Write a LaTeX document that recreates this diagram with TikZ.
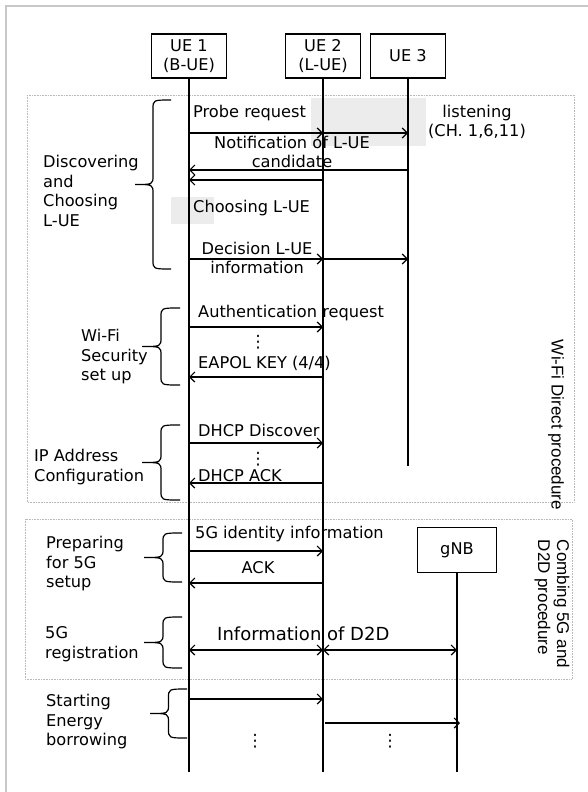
\documentclass[tikz,border=0pt]{standalone}
\usepackage{fontspec}
\setmainfont{DejaVu Sans}
\newfontfamily\sidefont{Liberation Sans}
\usetikzlibrary{arrows.meta, positioning, calc}
\definecolor{frame}{HTML}{C8C8C8}
\definecolor{patchgray}{HTML}{ECECEC}
% curly bracket: end x, top y, bottom y, depth
\newcommand{\grpbrace}[4]{%
  \draw[line width=1.2pt]
    (#1,#2) .. controls ({#1-#4/2},#2) .. ({#1-#4/2},{#2+9})
    -- ({#1-#4/2},{(#2+#3)/2-9}) .. controls ({#1-#4/2},{(#2+#3)/2}) .. ({#1-#4},{(#2+#3)/2})
    .. controls ({#1-#4/2},{(#2+#3)/2}) .. ({#1-#4/2},{(#2+#3)/2+9})
    -- ({#1-#4/2},{#3-9}) .. controls ({#1-#4/2},#3) .. (#1,#3);}

\begin{document}
\begin{tikzpicture}[x=1pt, y=-1pt,
    font=\fontsize{16.2}{19.5}\selectfont,
    ent/.style={draw, line width=1.4pt, minimum width=75pt, minimum height=44pt, align=center, inner sep=2pt},
    life/.style={line width=1.4pt},
    msg/.style={line width=1.4pt, -{Straight Barb[length=5pt, width=10pt, line width=1.2pt]}},
    twoway/.style={line width=1.4pt, {Straight Barb[length=5pt, width=10pt, line width=1.2pt]}-{Straight Barb[length=5pt, width=10pt, line width=1.2pt]}},
    lbl/.style={inner sep=0pt, anchor=base west},
    grp/.style={inner sep=0pt, anchor=west, align=left},
    vdot/.style={inner sep=0pt, font=\fontsize{17}{17}\selectfont},
    phase/.style={draw=gray!55, densely dotted, line width=0.6pt}]
    \useasboundingbox (0,0) rectangle (588,792);
    \draw[frame, line width=2pt] (6,792) -- (6,6) -- (588,6);

    % shaded patches
    \fill[patchgray] (311,98) rectangle (426,146);
    \fill[patchgray] (171,197) rectangle (214,224);

    % procedure frames
    \draw[phase] (27,95) rectangle (574,502);
    \draw[phase] (25,519) rectangle (572,679);
    \node[font=\sidefont\fontsize{17}{19}\selectfont, rotate=-90] (wifilbl) at (556,425) {Wi-Fi Direct procedure};
    \node[font=\sidefont\fontsize{17}{19}\selectfont, rotate=-90, align=left] (comblbl) at (552,604) {Combing 5G and\\D2D procedure};

    % entities and lifelines
    \node[ent] (ue1) at (189,56) {UE 1\\(B-UE)};
    \node[ent] (ue2) at (323,56) {UE 2\\(L-UE)};
    \node[ent] (ue3) at (408,56) {UE 3};
    \node[ent, minimum width=79pt, minimum height=45pt] (gnb) at (457,550) {gNB};
    \coordinate (ue1end) at (ue1 |- 0,772);
    \coordinate (ue2end) at (ue2 |- 0,772);
    \coordinate (ue3end) at (ue3 |- 0,466);
    \coordinate (gnbend) at (gnb |- 0,772);
    \draw[life] (ue1) -- (ue1end);
    \draw[life] (ue2) -- (ue2end);
    \draw[life] (ue3) -- (ue3end);
    \draw[life] (gnb) -- (gnbend);

    % discovering and choosing L-UE
    \node[lbl] (probe) at (193,117.5) {Probe request};
    \node[inner sep=0pt, align=center] (listen) at (477,122) {listening\\(CH. 1,6,11)};
    \draw[msg] (ue1 |- 0,133) -- (ue2 |- 0,133);
    \draw[msg] (ue2 |- 0,133) -- (ue3 |- 0,133);
    \node[inner sep=0pt, align=center] (notify) at (292,152) {Notification of L-UE\\candidate};
    \draw[msg] (ue3 |- 0,170) -- (ue1 |- 0,170);
    \draw[msg] (ue2 |- 0,180) -- (ue1 |- 0,180);
    \node[lbl] (choose) at (193,212.5) {Choosing L-UE};
    \node[inner sep=0pt, align=center] (decide) at (257,258) {Decision L-UE\\information};
    \draw[msg] (ue1 |- 0,259) -- (ue2 |- 0,259);
    \draw[msg] (ue2 |- 0,259) -- (ue3 |- 0,259);
    \grpbrace{171}{100}{269}{36}
    \node[grp] (g1) at (43,191) {Discovering\\and\\Choosing\\L-UE};

    % Wi-Fi security
    \node[lbl] (auth) at (198,317.5) {Authentication request};
    \draw[msg] (ue1 |- 0,327) -- (ue2 |- 0,327);
    \node[vdot] (dots1) at (258,342) {⋮};
    \node[lbl] (eapol) at (198,368.5) {EAPOL KEY (4/4)};
    \draw[msg] (ue2 |- 0,377) -- (ue1 |- 0,377);
    \grpbrace{180}{308}{385}{38}
    \node[grp] (g2) at (81,357) {Wi-Fi\\Security\\set up};

    % IP address configuration
    \node[lbl] (dhcpd) at (198,436.5) {DHCP Discover};
    \draw[msg] (ue1 |- 0,443) -- (ue2 |- 0,443);
    \node[vdot] (dots2) at (258,459) {⋮};
    \node[lbl] (dhcpa) at (198,481.5) {DHCP ACK};
    \draw[msg] (ue2 |- 0,483) -- (ue1 |- 0,483);
    \grpbrace{180}{425}{500}{38}
    \node[grp] (g3) at (34,467) {IP Address\\Configuration};

    % preparing for 5G
    \node[lbl] (ident) at (195,538.5) {5G identity information};
    \draw[msg] (ue1 |- 0,551) -- (ue2 |- 0,551);
    \node[inner sep=0pt] (ack) at (258,568) {ACK};
    \draw[msg] (ue2 |- 0,583) -- (ue1 |- 0,583);
    \grpbrace{182}{533}{582}{38}
    \node[grp] (g4) at (46,564) {Preparing\\for 5G\\setup};

    % 5G registration
    \node[lbl, font=\fontsize{18}{21}\selectfont] (d2d) at (217,640.5) {Information of D2D};
    \draw[twoway] (ue1 |- 0,650) -- (ue2 |- 0,650);
    \draw[twoway] (ue2 |- 0,650) -- (gnb |- 0,650);
    \grpbrace{182}{617}{668}{38}
    \node[grp] (g5) at (45,644) {5G\\registration};

    % energy borrowing
    \draw[msg] (ue1 |- 0,699) -- (ue2 |- 0,699);
    \draw[msg] ([xshift=2pt]ue2 |- 0,723) -- ([xshift=3pt]gnb |- 0,723);
    \node[vdot] (dots3) at (255,741) {⋮};
    \node[vdot] (dots4) at (390,741) {⋮};
    \grpbrace{187}{689}{738}{37}
    \node[grp] (g6) at (46,722) {Starting\\Energy\\borrowing};
\end{tikzpicture}
\end{document}
